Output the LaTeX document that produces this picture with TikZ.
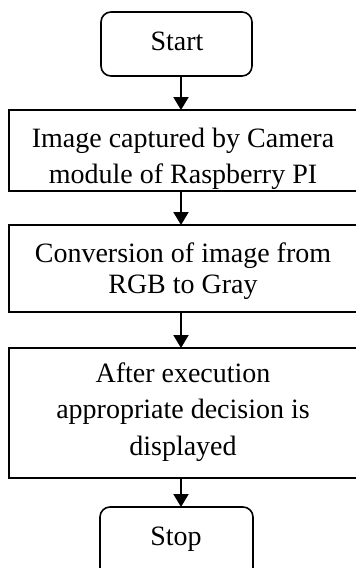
\documentclass[tikz,border=0pt]{standalone}
\usepackage{fontspec}
\setmainfont{Liberation Serif}
\usetikzlibrary{arrows.meta}
\begin{document}
\begin{tikzpicture}[x=1pt,y=-1pt,
  flowbox/.style={draw=black,line width=1.6pt,fill=none},
  termbox/.style={flowbox,rounded corners=10pt},
  label/.style={anchor=base,inner sep=0pt,font=\fontsize{28}{32}\selectfont},
  flow/.style={line width=2pt,-{Triangle[width=15pt,length=13pt]}}]
  \useasboundingbox (0,0) rectangle (356,568);

  % process boxes and terminals
  \draw[termbox] (101,12) rectangle (252,76);
  \coordinate (startB) at (181,76);
  \node[label] (tstart) at (177,50) {Start};

  \draw[flowbox] (9,110) rectangle (358,191);
  \coordinate (b1T) at (181,110);
  \coordinate (b1B) at (181,191);
  % the second line runs into the lower border, so its tails are cut off
  \begin{scope}
    \clip (9,110) rectangle (358,189.5);
    \node[label] (t1a) at (183,147) {Image captured by Camera};
    \node[label] (t1b) at (183,183) {module of Raspberry PI};
  \end{scope}

  \draw[flowbox] (9,225) rectangle (358,312);
  \coordinate (b2T) at (181,225);
  \coordinate (b2B) at (181,312);
  \node[label] (t2a) at (183,262) {Conversion of image from};
  \node[label] (t2b) at (183,293) {RGB to Gray};

  \draw[flowbox] (9,348) rectangle (358,478);
  \coordinate (b3T) at (181,348);
  \coordinate (b3B) at (181,478);
  \node[label] (t3a) at (183,382) {After execution};
  \node[label] (t3b) at (183,418) {appropriate decision is};
  \node[label] (t3c) at (183,455) {displayed};

  \draw[termbox] (100,507) rectangle (253,590);
  \coordinate (stopT) at (181,507);
  \node[label] (tstop) at (176,545) {Stop};

  % connectors
  \draw[flow] (startB) -- (b1T);
  \draw[flow] (b1B) -- (b2T);
  \draw[flow] (b2B) -- (b3T);
  \draw[flow] (b3B) -- (stopT);
\end{tikzpicture}
\end{document}
